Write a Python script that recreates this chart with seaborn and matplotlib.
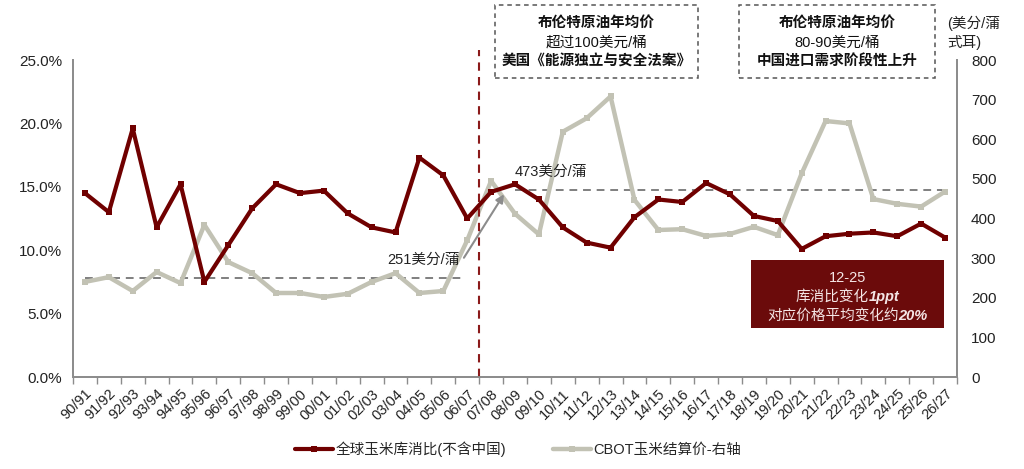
import numpy as np
import pandas as pd
import seaborn as sns
import matplotlib.pyplot as plt
from matplotlib.patches import Rectangle

# Data
seasons = ["90/91", "91/92", "92/93", "93/94", "94/95", "95/96", "96/97", "97/98",
           "98/99", "99/00", "00/01", "01/02", "02/03", "03/04", "04/05", "05/06",
           "06/07", "07/08", "08/09", "09/10", "10/11", "11/12", "12/13", "13/14",
           "14/15", "15/16", "16/17", "17/18", "18/19", "19/20", "20/21", "21/22",
           "22/23", "23/24", "24/25", "25/26", "26/27"]
stock_to_use = [14.5, 13.0, 19.6, 11.8, 15.2, 7.5, 10.4, 13.3,
                15.2, 14.5, 14.7, 12.9, 11.8, 11.4, 17.3, 15.9,
                12.5, 14.6, 15.2, 14.0, 11.8, 10.6, 10.2, 12.6,
                14.0, 13.8, 15.3, 14.4, 12.7, 12.3, 10.1, 11.1,
                11.3, 11.4, 11.1, 12.1, 11.0]
cbot_price = [240, 252, 217, 265, 237, 384, 290, 262,
              212, 212, 202, 210, 240, 262, 212, 217,
              345, 495, 412, 360, 619, 653, 708, 447,
              371, 373, 356, 361, 379, 358, 514, 646,
              640, 449, 437, 430, 468]
avg_early = 251
avg_late = 473

left_ticks = [0, 5, 10, 15, 20, 25]
right_ticks = [0, 100, 200, 300, 400, 500, 600, 700, 800]

RED = "#700000"
GRAY = "#C2C2B4"
AXIS = "#8C8C8C"
FONTS = ["Liberation Sans", "Noto Sans CJK SC", "DejaVu Sans"]

sns.set_theme(style="white")
plt.rcParams["font.family"] = FONTS

W, H = 1024, 469


def fx(x):
    return x / W


def fy(y):
    return 1 - y / H


df = pd.DataFrame({"idx": np.arange(len(seasons)), "ratio": stock_to_use, "price": cbot_price})

fig = plt.figure(figsize=(10.24, 4.69), dpi=100)
ax = fig.add_axes([fx(73), fy(377), fx(957) - fx(73), fy(60) - fy(377)])
ax2 = ax.twinx()

sns.lineplot(data=df, x="idx", y="price", ax=ax2, color=GRAY, linewidth=3.2,
             marker="s", markersize=4.5, markeredgewidth=0, label="CBOT玉米结算价-右轴", legend=False)
sns.lineplot(data=df, x="idx", y="ratio", ax=ax, color=RED, linewidth=3.0,
             marker="s", markersize=4.5, markeredgewidth=0, label="全球玉米库消比(不含中国)", legend=False)
ax.set_zorder(ax2.get_zorder() + 1)
ax.patch.set_visible(False)

n = len(seasons)
ax.set_xlim(-0.5, n - 0.5)
ax.set_ylim(0, 25)
ax2.set_ylim(0, 800)

ax.set_yticks(left_ticks)
ax.set_yticklabels([f"{v:.1f}%" for v in left_ticks], fontsize=11, color="#222222")
ax2.set_yticks(right_ticks)
ax2.set_yticklabels([str(v) for v in right_ticks], fontsize=11, color="#222222")

ax.set_xticks(np.arange(n))
ax.set_xticklabels(seasons, rotation=45, ha="right", rotation_mode="anchor", fontsize=10.5, color="#222222")
ax.set_xticks(np.arange(n + 1) - 0.5, minor=True)
ax.tick_params(axis="x", which="major", length=0, pad=7)
ax.tick_params(axis="x", which="minor", length=5, width=1, color=AXIS, direction="out", bottom=True)
ax.tick_params(axis="y", length=0, pad=8)
ax2.tick_params(axis="y", length=0, pad=10)

ax.set_xlabel("")
ax.set_ylabel("")
ax2.set_ylabel("")

for a in (ax, ax2):
    a.spines["top"].set_visible(False)
    for s in ("left", "right", "bottom"):
        a.spines[s].set_color(AXIS)
        a.spines[s].set_linewidth(1.3)

# average lines
ax2.plot([0, 15.8], [avg_early, avg_early], ls=(0, (4, 3)), color="#7F7F7F", lw=1.4, zorder=1)
ax2.plot([18, n - 1], [avg_late, avg_late], ls=(0, (4, 3)), color="#7F7F7F", lw=1.4, zorder=1)

# vertical divider
ax.axvline(16.5, ymin=0, ymax=1.03, color="#8B1A1A", ls=(0, (4, 3)), lw=1.5, clip_on=False)

# arrow between the two averages
ax2.annotate("", xy=(17.6, 467), xytext=(15.8, 295),
             arrowprops=dict(arrowstyle="-|>", color="#8C8C8C", lw=1.5, mutation_scale=12))
ax2.text(15.7, 295, f"{avg_early}美分/蒲", ha="right", va="center", fontsize=10.5, color="#222222")
ax2.text(18.0, 518, f"{avg_late}美分/蒲", ha="left", va="center", fontsize=10.5, color="#222222")

# dashed annotation boxes
boxes = [
    (495, 698, ["布伦特原油年均价", "超过100美元/桶", "美国《能源独立与安全法案》"]),
    (739, 935, ["布伦特原油年均价", "80-90美元/桶", "中国进口需求阶段性上升"]),
]
for x0, x1, lines in boxes:
    fig.add_artist(Rectangle((fx(x0), fy(78)), fx(x1) - fx(x0), fy(5) - fy(78),
                             transform=fig.transFigure, fill=False, ec="#555555",
                             lw=1.1, ls=(0, (3, 2.5))))
    cx = fx((x0 + x1) / 2)
    fig.text(cx, fy(23), lines[0], ha="center", va="center", fontsize=10.5, fontweight="bold", color="#111111")
    fig.text(cx, fy(42.5), lines[1], ha="center", va="center", fontsize=10.5, color="#111111")
    fig.text(cx, fy(62), lines[2], ha="center", va="center", fontsize=10.5, fontweight="bold", color="#111111")

# right axis unit
fig.text(fx(947), fy(23), "(美分/蒲", ha="left", va="center", fontsize=10.5, color="#222222")
fig.text(fx(947), fy(42.5), "式耳)", ha="left", va="center", fontsize=10.5, color="#222222")

# red summary box
BOX_TXT = "#F5E6E6"
fig.add_artist(Rectangle((fx(751), fy(328)), fx(944) - fx(751), fy(260) - fy(328),
                         transform=fig.transFigure, fc="#6B0B0B", ec="none"))
bcx = 847.5
fig.text(fx(bcx), fy(278), "12-25", ha="center", va="center", fontsize=10.5, color=BOX_TXT)

renderer = fig.canvas.get_renderer()
for ypx, plain, strong in [(297, "库消比变化", "1ppt"), (316, "对应价格平均变化约", "20%")]:
    t1 = fig.text(0, fy(ypx), plain, ha="left", va="center", fontsize=10.5, color=BOX_TXT)
    t2 = fig.text(0, fy(ypx), strong, ha="left", va="center", fontsize=10.5, color=BOX_TXT,
                  fontweight="bold", fontstyle="italic")
    w1 = t1.get_window_extent(renderer).width
    w2 = t2.get_window_extent(renderer).width
    left = bcx - (w1 + w2) / 2
    t1.set_x(fx(left))
    t2.set_x(fx(left + w1))

# legend
h1, l1 = ax.get_legend_handles_labels()
h2, l2 = ax2.get_legend_handles_labels()
fig.legend(h1 + h2, l1 + l2, loc="center", bbox_to_anchor=(0.506, fy(449)), ncol=2,
           frameon=False, fontsize=10.5, handlelength=2.6, columnspacing=3.2, handletextpad=0.2)

fig.savefig("out.png", dpi=100)
